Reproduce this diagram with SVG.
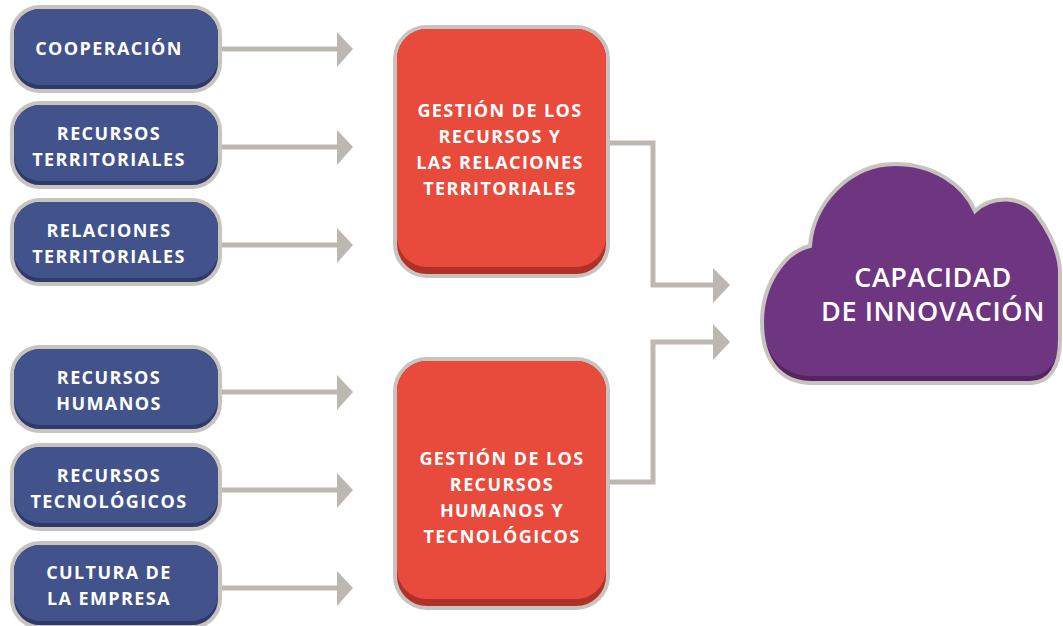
<svg xmlns="http://www.w3.org/2000/svg" width="1063" height="626" viewBox="0 0 1063 626">
<style>
.bb{fill:#2e3b68;stroke:#c8c3bf;stroke-width:4}
.bf{fill:#41538a}
.rb{fill:#b0302a;stroke:#c8c3bf;stroke-width:4}
.rf{fill:#e84a3c}
.t{font-family:"Open Sans","Liberation Sans",sans-serif;font-weight:700;font-size:18px;fill:#ffffff;text-anchor:middle;letter-spacing:1.4px}
.ct{font-family:"Open Sans","Liberation Sans",sans-serif;font-weight:600;font-size:27px;fill:#ffffff;text-anchor:middle;letter-spacing:0.6px}
.ln{fill:none;stroke:#bdb7b2;stroke-width:5}
.ah{fill:#bdb7b2}
</style>
<defs>
<path id="cloudp" d="M812 383 C780 383 762 360 762 322 C762 285 784 252 810 246 C813 203 850 164 895 164 C933 164 963 184 975 211 C992 195 1022 195 1037 215 C1050 233 1059 252 1060 270 L1060 340 C1060 366 1050 383 1030 383 Z"/>
<clipPath id="cc"><use href="#cloudp"/></clipPath>
</defs>
<g id="connectors">
<line class="ln" x1="222" y1="49" x2="338" y2="49"/><polygon class="ah" points="337,32 353,49 337,67"/>
<line class="ln" x1="222" y1="147" x2="338" y2="147"/><polygon class="ah" points="337,130 353,147 337,165"/>
<line class="ln" x1="222" y1="245" x2="338" y2="245"/><polygon class="ah" points="337,228 353,245 337,263"/>
<line class="ln" x1="222" y1="392" x2="338" y2="392"/><polygon class="ah" points="337,375 353,392 337,410"/>
<line class="ln" x1="222" y1="490" x2="338" y2="490"/><polygon class="ah" points="337,473 353,490 337,508"/>
<line class="ln" x1="222" y1="588" x2="338" y2="588"/><polygon class="ah" points="337,571 353,588 337,606"/>
<polyline class="ln" points="610,143 653,143 653,285 714,285"/><polygon class="ah" points="713,268 730,285 713,303"/>
<polyline class="ln" points="610,482 653,482 653,342 714,342"/><polygon class="ah" points="713,324 730,342 713,360"/>
</g>
<g id="n1"><rect class="bb" x="12" y="7" width="208" height="84" rx="28"/><rect class="bf" x="14" y="9" width="204" height="76" rx="26"/><text class="t" x="109" y="55">COOPERACIÓN</text></g>
<g id="n2"><rect class="bb" x="12" y="103" width="208" height="84" rx="28"/><rect class="bf" x="14" y="105" width="204" height="76" rx="26"/><text class="t" x="109" y="140">RECURSOS</text><text class="t" x="109" y="166">TERRITORIALES</text></g>
<g id="n3"><rect class="bb" x="12" y="200" width="208" height="84" rx="28"/><rect class="bf" x="14" y="202" width="204" height="76" rx="26"/><text class="t" x="109" y="237">RELACIONES</text><text class="t" x="109" y="263">TERRITORIALES</text></g>
<g id="n4"><rect class="bb" x="12" y="347" width="208" height="84" rx="28"/><rect class="bf" x="14" y="349" width="204" height="76" rx="26"/><text class="t" x="109" y="384">RECURSOS</text><text class="t" x="109" y="410">HUMANOS</text></g>
<g id="n5"><rect class="bb" x="12" y="445" width="208" height="84" rx="28"/><rect class="bf" x="14" y="447" width="204" height="76" rx="26"/><text class="t" x="109" y="482">RECURSOS</text><text class="t" x="109" y="508">TECNOLÓGICOS</text></g>
<g id="n6"><rect class="bb" x="12" y="543" width="208" height="84" rx="28"/><rect class="bf" x="14" y="545" width="204" height="76" rx="26"/><text class="t" x="109" y="579">CULTURA DE</text><text class="t" x="109" y="605">LA EMPRESA</text></g>
<g id="g1"><rect class="rb" x="395" y="27" width="213" height="249" rx="32"/><rect class="rf" x="397" y="29" width="209" height="238" rx="30"/><text class="t" x="500" y="117">GESTIÓN DE LOS</text><text class="t" x="500" y="143">RECURSOS Y</text><text class="t" x="500" y="169">LAS RELACIONES</text><text class="t" x="500" y="195">TERRITORIALES</text></g>
<g id="g2"><rect class="rb" x="395" y="359" width="213" height="249" rx="32"/><rect class="rf" x="397" y="361" width="209" height="238" rx="30"/><text class="t" x="502" y="465">GESTIÓN DE LOS</text><text class="t" x="502" y="491">RECURSOS</text><text class="t" x="502" y="517">HUMANOS Y</text><text class="t" x="502" y="543">TECNOLÓGICOS</text></g>
<g id="cloud">
<use href="#cloudp" fill="#56245f"/>
<g clip-path="url(#cc)"><use href="#cloudp" fill="#6e3580" transform="translate(0,-7)"/></g>
<use href="#cloudp" fill="none" stroke="#c8c3bf" stroke-width="4"/>
<text class="ct" x="933" y="287">CAPACIDAD</text>
<text class="ct" x="933" y="321">DE INNOVACIÓN</text>
</g>
</svg>
